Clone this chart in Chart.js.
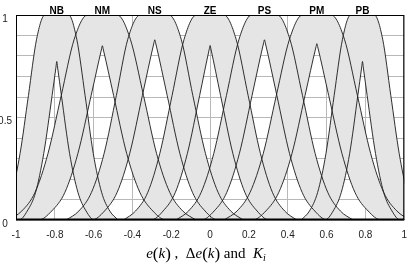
<!DOCTYPE html>
<html>
<head>
<meta charset="utf-8">
<script src="https://cdn.jsdelivr.net/npm/chart.js@4.4.0/dist/chart.umd.min.js"></script>
<style>
html, body { margin: 0; padding: 0; background: #fff; }
#wrap { width: 416px; height: 266px; }
</style>
</head>
<body>
<div id="wrap"><canvas id="myChart"></canvas></div>
<script>
// fuzzy set names and where their lower MF peaks sit
var names = ["NB", "NM", "NS", "ZE", "PS", "PM", "PB"];
var centers = [-0.79, -0.555, -0.285, 0, 0.28, 0.55, 0.785];

// upper MF: x positions read at these levels (left flank, flat top, right flank)
var upperY = [0, 0.044, 0.135, 0.325, 0.607, 0.882, 1, 1, 0.882, 0.607, 0.325, 0.135, 0.044, 0];
var upperX = [
    [-1.106, -1.064, -1.021, -0.979, -0.936, -0.894, -0.851, -0.729, -0.687, -0.644, -0.602, -0.559, -0.517, -0.474],
    [-1.037, -0.970, -0.902, -0.835, -0.767, -0.700, -0.632, -0.478, -0.411, -0.343, -0.276, -0.208, -0.141, -0.073],
    [-0.741, -0.676, -0.611, -0.546, -0.483, -0.424, -0.360, -0.212, -0.149, -0.089, -0.024, 0.041, 0.106, 0.171],
    [-0.446, -0.384, -0.321, -0.259, -0.196, -0.134, -0.071, 0.071, 0.134, 0.196, 0.259, 0.321, 0.384, 0.446],
    [-0.176, -0.111, -0.046, 0.019, 0.084, 0.149, 0.214, 0.346, 0.411, 0.476, 0.541, 0.606, 0.671, 0.736],
    [0.071, 0.139, 0.206, 0.274, 0.341, 0.409, 0.476, 0.624, 0.692, 0.759, 0.827, 0.894, 0.962, 1.029],
    [0.469, 0.512, 0.554, 0.597, 0.639, 0.682, 0.724, 0.846, 0.889, 0.931, 0.974, 1.016, 1.059, 1.101]
];

// lower MF: flank levels, then per set the value next to the peak and the peak itself
var lowerFlankY = [0, 0, 0.044, 0.135, 0.325, 0.607];
var nearPeakY = [0.746, 0.835, 0.865, 0.835, 0.865, 0.846, 0.746];
var peakY = [0.773, 0.85, 0.879, 0.851, 0.879, 0.86, 0.773];
var lowerX = [
    [-1.106, -0.984, -0.942, -0.899, -0.857, -0.814, -0.794, -0.79, -0.786, -0.766, -0.724, -0.681, -0.639, -0.596, -0.474],
    [-1.037, -0.883, -0.816, -0.748, -0.681, -0.613, -0.559, -0.555, -0.551, -0.497, -0.430, -0.362, -0.295, -0.227, -0.073],
    [-0.741, -0.609, -0.544, -0.479, -0.414, -0.349, -0.289, -0.285, -0.281, -0.221, -0.156, -0.091, -0.026, 0.039, 0.171],
    [-0.446, -0.304, -0.242, -0.179, -0.117, -0.054, -0.004, 0, 0.004, 0.054, 0.117, 0.179, 0.242, 0.304, 0.446],
    [-0.176, -0.044, 0.021, 0.086, 0.151, 0.216, 0.276, 0.28, 0.284, 0.344, 0.409, 0.474, 0.539, 0.604, 0.736],
    [0.071, 0.219, 0.287, 0.354, 0.422, 0.489, 0.546, 0.55, 0.554, 0.611, 0.679, 0.746, 0.814, 0.881, 1.029],
    [0.469, 0.591, 0.634, 0.676, 0.719, 0.761, 0.781, 0.785, 0.789, 0.809, 0.852, 0.894, 0.937, 0.979, 1.101]
];

var xTicks = [-1, -0.8, -0.6, -0.4, -0.2, 0, 0.2, 0.4, 0.6, 0.8, 1];
var yLabels = [0, 0.5, 1];

var datasets = [];
for (var i = 0; i < names.length; i++) {
    var up = [];
    for (var j = 0; j < upperX[i].length; j++) {
        up.push({ x: upperX[i][j], y: upperY[j] });
    }
    var lowY = lowerFlankY.concat([nearPeakY[i], peakY[i], nearPeakY[i]], lowerFlankY.slice().reverse());
    var low = [];
    for (var j = 0; j < lowerX[i].length; j++) {
        low.push({ x: lowerX[i][j], y: lowY[j] });
    }
    datasets.push({
        label: names[i] + " upper",
        data: up,
        borderColor: "#1a1a1a",
        borderWidth: 0.9,
        backgroundColor: "#e5e5e5",
        fill: { target: "+1" },
        pointRadius: 0,
        cubicInterpolationMode: "monotone"
    });
    datasets.push({
        label: names[i] + " lower",
        data: low,
        borderColor: "#1a1a1a",
        borderWidth: 0.9,
        fill: false,
        pointRadius: 0,
        cubicInterpolationMode: "monotone"
    });
}

var setLabels = {
    id: "setLabels",
    afterDraw: function (chart) {
        var ctx = chart.ctx;
        var xs = chart.scales.x;
        var a = chart.chartArea;
        ctx.save();
        // frame
        ctx.strokeStyle = "#000";
        ctx.lineWidth = 1;
        ctx.strokeRect(a.left + 0.5, a.top + 0.5, a.right - a.left - 1, a.bottom - a.top - 1);
        ctx.beginPath();
        ctx.moveTo(a.left, a.bottom - 0.5);
        ctx.lineTo(a.right, a.bottom - 0.5);
        ctx.lineWidth = 2;
        ctx.stroke();
        // set names above the frame
        ctx.fillStyle = "#000";
        ctx.font = "bold 10px 'Liberation Sans', Arial, sans-serif";
        ctx.textAlign = "center";
        ctx.textBaseline = "middle";
        for (var i = 0; i < names.length; i++) {
            ctx.fillText(names[i], xs.getPixelForValue(centers[i]), a.top - 4);
        }
        // axis title: e(k),  Δe(k) and  K_i
        var parts = [
            ["e", "italic"], ["(", "paren"], ["k", "italic"], [")", "paren"], [" ,  ", ""],
            ["\u0394", ""], ["e", "italic"], ["(", "paren"], ["k", "italic"], [")", "paren"],
            [" and  ", ""], ["K", "italic"], ["i", "sub"]
        ];
        var fam = "'Liberation Serif', 'Times New Roman', serif";
        function fontFor(s) {
            if (s === "italic") return "italic 15px " + fam;
            if (s === "sub") return "italic 10px " + fam;
            if (s === "paren") return "17px " + fam;
            return "15px " + fam;
        }
        var total = 0;
        for (var k = 0; k < parts.length; k++) {
            ctx.font = fontFor(parts[k][1]);
            total += ctx.measureText(parts[k][0]).width;
        }
        var x = 206 - total / 2;
        var y = 258;
        ctx.textAlign = "left";
        ctx.textBaseline = "alphabetic";
        for (var k = 0; k < parts.length; k++) {
            ctx.font = fontFor(parts[k][1]);
            ctx.fillText(parts[k][0], x, parts[k][1] === "sub" ? y + 3 : (parts[k][1] === "paren" ? y + 1 : y));
            x += ctx.measureText(parts[k][0]).width;
        }
        ctx.restore();
    }
};

new Chart("myChart", {
    type: "line",
    data: { datasets: datasets },
    options: {
        responsive: true,
        maintainAspectRatio: false,
        animation: false,
        layout: { padding: { top: 15, right: 7, left: 0, bottom: 0 } },
        plugins: {
            legend: { display: false },
            tooltip: { enabled: false },
            filler: { drawTime: "beforeDatasetsDraw" }
        },
        scales: {
            x: {
                type: "linear",
                min: -1,
                max: 1,
                afterBuildTicks: function (s) {
                    s.ticks = xTicks.map(function (v) { return { value: v }; });
                },
                afterFit: function (s) { s.height = 46; },
                grid: { color: "#b8b8b8", lineWidth: 1, drawTicks: false },
                border: { display: false },
                ticks: {
                    padding: 9,
                    color: "#222",
                    font: { family: "'Liberation Sans', Arial, sans-serif", size: 10 },
                    maxRotation: 0,
                    callback: function (v) { return String(Math.round(v * 10) / 10); }
                }
            },
            y: {
                min: 0,
                max: 1,
                afterFit: function (s) { s.width = 16; },
                grid: { color: "#b8b8b8", lineWidth: 1, drawTicks: false },
                border: { display: false },
                ticks: {
                    stepSize: 0.1,
                    padding: 4,
                    labelOffset: 4,
                    crossAlign: "center",
                    color: "#222",
                    font: { family: "'Liberation Sans', Arial, sans-serif", size: 10 },
                    callback: function (v) {
                        for (var i = 0; i < yLabels.length; i++) {
                            if (Math.abs(v - yLabels[i]) < 1e-6) return String(yLabels[i]);
                        }
                        return "";
                    }
                }
            }
        }
    },
    plugins: [setLabels]
});
</script>
</body>
</html>
